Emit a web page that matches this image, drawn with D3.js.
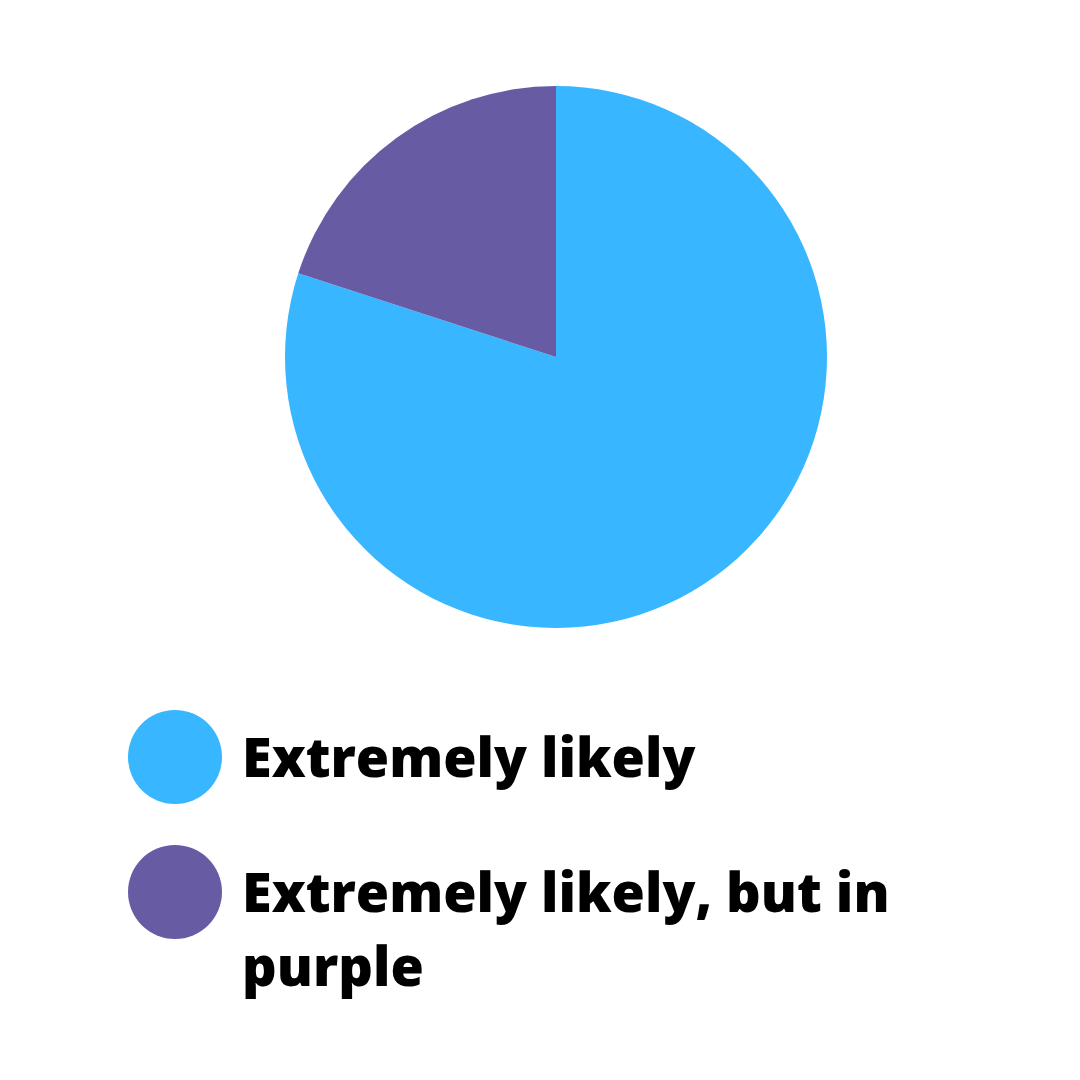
<!DOCTYPE html>
<html>
<head>
<meta charset="utf-8">
<script src="https://cdn.jsdelivr.net/npm/d3@7"></script>
<style>
  body { margin: 0; background: #fff; }
  svg text { font-family: "Open Sans", sans-serif; font-weight: 800; }
</style>
</head>
<body>
<svg id="chart" width="1080" height="1080"></svg>
<script>
// slice data
var categories = ['Extremely likely', 'Extremely likely, but in purple']
var values = [80, 20]
var colors = ['#38b6ff', '#675ba4']
// legend text broken into lines as in the picture
var legendLines = [['Extremely likely'], ['Extremely likely, but in', 'purple']]

var width = 1080, height = 1080
var svg = d3.select('#chart')

var radius = 271
var pieG = svg.append('g').attr('transform', 'translate(556,357)')

var pie = d3.pie().sort(null).value(function(d) { return d })
var arc = d3.arc().innerRadius(0).outerRadius(radius)

var color = d3.scaleOrdinal().domain(categories).range(colors)

// draw purple first going counter clockwise: blue starts at top going clockwise
pie.startAngle(0).endAngle(2 * Math.PI)

pieG.selectAll('path')
  .data(pie(values))
  .enter()
  .append('path')
  .attr('d', arc)
  .attr('fill', function(d, i) { return color(categories[i]) })

// legend
var legendY = d3.scalePoint().domain(categories).range([757, 892])

var leg = svg.append('g').attr('class', 'legend')
  .selectAll('g')
  .data(categories)
  .enter()
  .append('g')
  .attr('transform', function(d) { return 'translate(0,' + legendY(d) + ')' })

leg.append('circle')
  .attr('cx', 175)
  .attr('cy', 0)
  .attr('r', 47)
  .attr('fill', function(d) { return color(d) })

leg.append('text')
  .attr('x', 242)
  .attr('y', 20)
  .attr('font-size', 54)
  .attr('fill', '#000')
  .selectAll('tspan')
  .data(function(d, i) { return legendLines[i] })
  .enter()
  .append('tspan')
  .attr('x', 242)
  .attr('dy', function(d, j) { return j === 0 ? 0 : 74 })
  .text(function(d) { return d })
</script>
</body>
</html>
